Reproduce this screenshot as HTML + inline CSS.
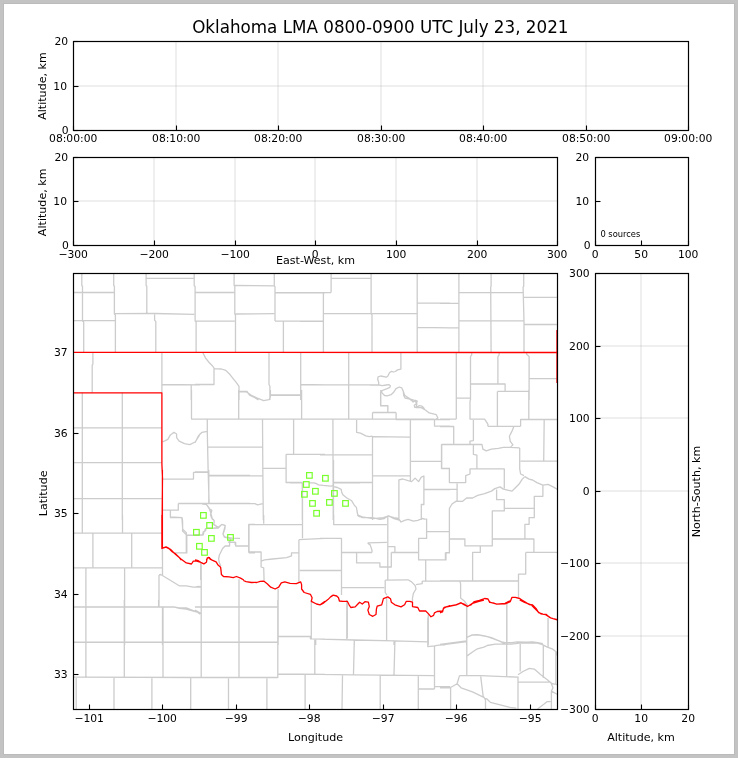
<!DOCTYPE html><html><head><meta charset="utf-8"><style>html,body{margin:0;padding:0;background:#fff;overflow:hidden}svg{display:block}</style></head><body><svg width="738" height="758" viewBox="0 0 738 758" font-family="DejaVu Sans, Liberation Sans, sans-serif" fill="#000">
<rect x="0" y="0" width="738" height="758" fill="#c3c3c3"/>
<rect x="3.5" y="3.5" width="731" height="751" fill="#fff" stroke="#bbbbbb" stroke-width="1"/>
<line x1="176.00" y1="41.5" x2="176.00" y2="130.5" stroke="#b0b0b0" stroke-opacity="0.2" stroke-width="2"/>
<line x1="278.00" y1="41.5" x2="278.00" y2="130.5" stroke="#b0b0b0" stroke-opacity="0.2" stroke-width="2"/>
<line x1="381.00" y1="41.5" x2="381.00" y2="130.5" stroke="#b0b0b0" stroke-opacity="0.2" stroke-width="2"/>
<line x1="483.00" y1="41.5" x2="483.00" y2="130.5" stroke="#b0b0b0" stroke-opacity="0.2" stroke-width="2"/>
<line x1="586.00" y1="41.5" x2="586.00" y2="130.5" stroke="#b0b0b0" stroke-opacity="0.2" stroke-width="2"/>
<line x1="73.5" y1="86.00" x2="688.5" y2="86.00" stroke="#b0b0b0" stroke-opacity="0.2" stroke-width="2"/>
<line x1="154.00" y1="157.5" x2="154.00" y2="245.5" stroke="#b0b0b0" stroke-opacity="0.2" stroke-width="2"/>
<line x1="235.00" y1="157.5" x2="235.00" y2="245.5" stroke="#b0b0b0" stroke-opacity="0.2" stroke-width="2"/>
<line x1="315.00" y1="157.5" x2="315.00" y2="245.5" stroke="#b0b0b0" stroke-opacity="0.2" stroke-width="2"/>
<line x1="396.00" y1="157.5" x2="396.00" y2="245.5" stroke="#b0b0b0" stroke-opacity="0.2" stroke-width="2"/>
<line x1="477.00" y1="157.5" x2="477.00" y2="245.5" stroke="#b0b0b0" stroke-opacity="0.2" stroke-width="2"/>
<line x1="73.5" y1="201.00" x2="557.5" y2="201.00" stroke="#b0b0b0" stroke-opacity="0.2" stroke-width="2"/>
<line x1="641.00" y1="273.5" x2="641.00" y2="709.5" stroke="#b0b0b0" stroke-opacity="0.2" stroke-width="2"/>
<line x1="595.5" y1="636.00" x2="688.5" y2="636.00" stroke="#b0b0b0" stroke-opacity="0.2" stroke-width="2"/>
<line x1="595.5" y1="563.00" x2="688.5" y2="563.00" stroke="#b0b0b0" stroke-opacity="0.2" stroke-width="2"/>
<line x1="595.5" y1="491.00" x2="688.5" y2="491.00" stroke="#b0b0b0" stroke-opacity="0.2" stroke-width="2"/>
<line x1="595.5" y1="418.00" x2="688.5" y2="418.00" stroke="#b0b0b0" stroke-opacity="0.2" stroke-width="2"/>
<line x1="595.5" y1="346.00" x2="688.5" y2="346.00" stroke="#b0b0b0" stroke-opacity="0.2" stroke-width="2"/>
<path d="M81.8,273.5 L81.8,285.5 L82.5,286.2 L82.5,321.1 L83.7,322.0 L83.7,351.9 M73.5,292.5 L114.0,292.5 M73.5,320.7 L115.4,320.7 M113.7,273.5 L113.7,285.5 L114.4,286.2 L114.4,314.0 L115.4,315.1 L115.4,351.9 M114.4,313.7 L154.6,313.5 L194.2,314.4 M146.1,273.5 L146.1,285.5 L146.8,286.2 L146.8,313.7 M146.1,278.3 L194.2,278.3 M194.2,273.5 L194.2,285.5 L195.1,286.7 L195.1,321.1 L196.1,322.1 L196.1,351.9 M195.1,292.5 L200.0,292.5 M154.6,314.4 L154.6,320.2 L155.8,321.4 L155.8,351.9 M92.9,352.8 L92.9,364.2 L92.2,365.1 L92.2,392.8 M161.9,352.4 L161.9,392.8 M161.9,384.5 L200.0,384.8 M191.2,384.8 L191.2,400.0 M82.3,393.3 L82.3,400.0 M122.3,393.3 L122.3,400.0 M234.1,273.5 L234.1,285.5 L234.8,286.2 L234.8,314.0 L235.5,315.1 L235.5,351.9 M195.0,292.5 L234.1,292.5 M195.0,321.1 L234.8,321.1 M234.8,285.5 L274.3,285.9 M274.3,273.5 L274.3,285.9 L275.0,286.7 L275.0,321.1 M235.5,314.0 L274.3,313.7 M275.0,292.5 L325.0,292.9 M275.0,321.1 L323.2,321.1 M283.4,321.4 L283.4,351.9 M202.9,352.8 L205.6,358.1 L209.1,362.5 L212.6,366.0 L214.4,368.6 L221.4,369.0 L225.8,370.4 L230.2,374.8 L232.9,378.3 L236.4,382.7 L239.0,386.3 L239.0,391.5 L247.0,391.5 L249.6,395.1 L254.9,397.7 L258.4,400.0 M214.0,368.6 L214.0,384.5 L195.0,384.5 M239.0,391.5 L239.0,400.0 M269.0,352.8 L269.0,384.5 L269.9,386.3 L269.9,400.0 M269.9,395.4 L300.7,395.4 M300.7,352.8 L300.7,400.0 M300.7,384.5 L325.0,384.8 M331.1,273.5 L331.1,292.6 M300.0,292.6 L331.1,292.6 M331.1,278.3 L360.0,278.3 M323.4,292.6 L323.4,352.0 M300.0,321.3 L323.4,321.3 M323.4,313.7 L360.0,313.7 M330.9,278.3 L371.1,278.3 M371.1,273.5 L371.1,313.7 L372.0,314.9 L372.0,351.9 M326.2,313.7 L417.2,313.3 M417.2,273.5 L417.2,351.9 M417.2,303.1 L450.0,303.1 M417.2,327.4 L450.0,327.8 M348.7,352.8 L348.7,400.0 M320.0,384.8 L379.0,384.8 M400.9,352.4 L400.9,369.1 L397.6,369.9 L395.2,371.5 L393.6,372.0 L391.5,371.3 L389.5,372.8 L387.9,376.0 L386.3,377.2 L380.6,376.0 L378.1,376.8 L377.7,379.3 L378.5,381.7 L378.9,385.0 L370.0,385.0 M378.9,385.0 L382.2,385.6 L386.3,385.0 L388.7,384.6 L390.3,385.8 L389.9,387.4 L387.1,388.6 L383.8,389.8 L381.4,391.1 L380.6,391.9 L380.6,405.7 L387.9,405.7 L387.9,410.0 M381.4,391.1 L382.2,393.1 L384.6,395.5 L387.1,395.9 L391.1,394.7 L393.6,392.3 L396.0,388.6 L399.3,387.0 L401.7,387.8 L403.3,391.5 L403.7,395.5 L405.0,398.0 L409.0,398.8 L411.5,400.4 L413.1,402.0 L415.5,400.4 L417.2,401.2 L416.3,403.7 L414.3,405.3 L414.7,407.3 L417.2,406.9 L419.6,405.7 L422.0,406.1 L423.7,407.7 L424.9,410.0 M458.9,273.5 L458.9,351.9 M440.0,303.4 L458.9,303.4 M440.0,327.9 L458.9,327.9 M458.9,292.6 L523.7,292.6 M491.1,273.5 L491.1,286.3 L490.7,287.1 L491.1,351.9 M458.9,320.9 L524.0,320.9 M523.7,273.5 L523.7,286.3 L523.1,287.1 L524.0,321.4 L524.0,351.9 M523.7,297.4 L556.9,297.4 M524.0,324.5 L556.9,324.5 M456.3,352.6 L456.3,400.0 M471.7,352.6 L471.7,354.9 L470.5,356.6 L470.5,400.0 M470.5,384.0 L505.1,384.0 L505.1,391.4 M497.4,391.4 L529.1,391.4 M499.1,352.6 L499.1,354.9 L497.9,356.6 L497.9,384.0 M497.4,391.4 L497.4,400.0 M526.6,352.6 L526.6,354.3 L529.1,356.6 L529.1,400.0 M529.1,378.3 L556.9,378.7 M82.3,392.6 L82.3,520.0 M122.3,392.6 L122.3,520.0 M73.5,427.9 L161.9,427.9 M73.5,462.7 L161.9,462.7 M73.5,498.7 L161.9,498.7 M191.5,390.0 L191.5,419.1 L200.0,419.1 M162.5,442.0 L167.8,439.3 L170.4,434.9 L173.9,432.3 L176.6,434.0 L176.6,437.6 L179.2,441.1 L184.5,443.7 L189.8,444.6 L195.1,442.0 L198.6,436.7 L200.0,434.0 M162.4,479.1 L193.5,479.1 L193.5,472.4 L208.8,472.2 M208.8,470.0 L208.8,503.5 M208.8,475.5 L250.0,475.5 M178.3,503.5 L250.0,503.5 M178.3,503.5 L178.3,510.2 L162.4,510.2 M170.4,510.2 L170.4,517.0 L182.0,517.6 L182.6,521.2 L182.6,531.0 L186.2,534.6 L186.8,535.2 L203.3,535.2 M186.8,535.2 L186.8,552.9 L175.9,552.9 M162.4,548.0 L162.4,560.0 M249.0,524.3 L249.0,552.9 M202.3,504.0 L206.0,504.3 L207.8,506.1 L209.0,508.5 L211.8,510.4 L211.2,512.8 L210.5,514.6 L211.5,517.7 L213.9,520.1 L214.2,522.6 L213.3,524.4 L216.3,526.2 L218.2,528.0 L213.3,528.4 L206.0,528.4 L205.7,530.5 L203.8,532.0 L203.2,534.8 L200.5,535.2 L195.0,535.2 M218.2,528.0 L220.0,526.2 L221.8,524.4 L225.2,525.3 L224.9,528.7 L223.7,532.3 L223.0,534.1 L224.3,536.6 L227.3,537.5 L232.2,538.1 L240.0,538.4 M227.9,542.1 L235.2,542.1 L235.2,545.0 M238.7,390.0 L238.7,419.1 M238.7,391.8 L246.1,391.8 L251.4,395.3 L256.7,397.9 L263.7,400.6 L269.0,399.7 L270.4,397.0 L270.4,390.0 M270.4,394.9 L301.6,394.9 M301.6,390.0 L301.6,419.1 M195.0,419.1 L325.0,419.1 M207.3,419.6 L207.3,432.3 L208.2,472.8 L209.1,502.7 M195.0,442.8 L198.5,435.8 L202.0,432.3 L207.3,431.4 M208.2,447.2 L262.5,447.2 M209.1,475.8 L262.8,475.8 M195.0,471.9 L208.2,471.9 M205.6,503.6 L254.9,503.6 L257.5,504.8 L262.8,503.6 M262.5,419.6 L262.8,467.5 L263.3,520.0 M262.8,468.4 L286.1,468.4 M293.6,419.6 L293.6,454.3 M286.1,454.3 L325.0,454.3 M286.1,454.3 L286.1,482.5 L302.5,482.5 M302.5,482.5 L302.5,520.0 M205.6,503.6 L209.1,508.0 L210.9,513.3 L212.6,520.0 M348.7,390.0 L348.7,419.1 M380.8,390.0 L380.8,405.9 L387.8,405.9 L387.8,412.5 M372.5,412.5 L396.1,412.5 M372.5,412.5 L372.5,419.1 M396.1,412.5 L396.1,419.6 L450.0,419.6 M402.8,390.0 L404.6,395.3 L409.8,398.8 L415.1,400.6 L416.9,404.1 L416.0,407.6 L421.3,407.6 L425.7,410.3 L429.2,412.9 L436.3,414.7 L438.0,418.2 L434.5,419.9 L434.5,426.1 L450.0,426.1 M320.0,419.1 L434.5,419.1 M332.9,419.6 L333.2,520.0 M356.6,419.9 L356.6,432.3 L360.5,433.2 L365.8,435.8 L369.3,436.7 L372.5,436.2 M372.5,436.7 L409.8,437.2 M372.5,436.2 L372.5,520.0 M410.4,419.9 L410.4,480.7 M320.0,454.8 L372.5,454.8 M333.7,482.5 L372.5,482.5 M372.5,475.8 L410.4,475.8 M410.4,461.3 L441.5,461.3 M450.0,444.6 L441.5,444.6 L441.5,468.4 L450.0,468.4 M423.9,489.5 L450.0,489.5 M398.9,520.0 L398.9,479.8 L402.8,479.0 L408.1,480.7 L411.6,481.6 L415.1,478.1 L418.6,481.6 L421.3,477.2 L423.9,476.0 L423.9,504.5 L421.3,504.5 L421.3,520.0 M290.0,482.8 L302.8,482.8 M302.3,482.8 L302.3,519.8 M309.4,482.8 L313.7,482.8 L316.6,483.7 L318.5,484.9 L323.2,485.4 L328.0,485.8 L330.8,486.1 L333.2,485.6 L333.6,486.6 L337.4,487.5 L341.2,489.4 L341.7,492.3 L343.1,495.1 L346.9,498.0 L351.7,500.8 L354.5,505.5 L356.4,507.4 L357.4,513.1 L358.3,516.0 L360.0,516.9 M333.5,460.0 L333.5,519.8 M333.5,482.8 L360.0,482.8 M357.0,511.5 L357.9,515.1 L362.3,516.8 L372.8,518.6 L383.4,517.7 L388.7,515.9 L394.0,518.6 L399.3,520.0 M456.3,390.0 L456.3,419.1 M440.0,419.1 L456.3,419.1 M456.3,398.2 L470.5,398.2 M470.5,390.0 L470.5,399.4 L470.0,401.1 L470.0,419.1 L484.6,419.1 L486.3,421.7 L488.0,424.3 L487.7,426.0 M487.7,426.3 L520.6,426.3 M497.4,391.4 L497.4,426.3 M497.4,391.4 L528.8,391.4 M528.8,390.0 L528.8,419.1 M520.6,426.3 L520.6,419.5 L557.4,419.5 M544.2,419.5 L543.7,461.1 M440.0,426.5 L453.7,426.5 L453.7,444.0 M473.4,420.0 L473.4,440.6 L470.0,441.1 L470.0,444.0 M441.7,444.5 L482.0,444.5 L482.9,449.1 L486.3,450.9 L491.4,449.1 L498.3,448.3 L503.4,447.4 L510.3,447.4 L519.7,447.9 M513.7,426.9 L512.0,431.1 L509.4,436.3 L510.3,441.4 L512.9,444.9 L510.3,447.4 M441.7,444.5 L441.7,468.5 L449.4,468.5 L449.4,482.6 L465.7,482.6 L465.7,475.7 L470.0,474.0 L470.0,468.9 L504.3,468.9 L504.3,488.6 M473.4,444.5 L473.4,454.3 L476.9,455.1 L476.9,468.5 M519.7,447.9 L519.7,468.9 L520.6,474.0 L524.0,475.7 M520.6,461.1 L557.4,461.1 M449.4,520.0 L449.4,508.3 L452.0,504.0 L456.3,501.1 L462.3,501.4 L466.6,498.0 L472.6,498.0 L477.7,495.4 L484.6,493.7 L491.4,491.1 L494.9,488.6 L500.0,486.9 L503.4,489.1 L508.6,490.3 L512.0,491.1 L515.4,487.7 L518.9,484.3 L522.3,479.1 L524.9,476.6 M524.9,476.6 L529.1,479.1 L532.6,480.0 L536.9,482.6 L542.9,485.1 L548.0,484.3 L553.1,486.9 L557.4,489.4 M440.0,489.4 L457.1,489.4 M457.1,483.4 L457.1,500.6 M496.6,489.4 L496.6,499.7 L504.3,499.7 L504.3,508.3 L534.3,508.3 M492.3,520.0 L492.3,510.9 L504.3,510.9 L504.3,508.3 M542.9,485.1 L542.9,496.3 L534.3,496.3 L534.3,517.7 L529.1,517.7 L529.1,520.0 M82.3,515.0 L82.3,533.1 M122.5,515.0 L122.5,533.1 M73.5,533.1 L161.9,533.1 M92.9,533.1 L92.9,567.8 M131.7,533.1 L131.7,567.8 M73.5,567.8 L162.5,567.8 M85.9,567.8 L85.9,645.0 M124.6,567.8 L124.6,645.0 M162.5,548.5 L162.5,574.9 M159.0,574.9 L159.0,606.6 M159.0,574.9 L160.7,574.5 L168.6,579.3 L179.2,585.8 L186.3,585.8 L193.3,587.2 L200.0,587.2 M73.5,606.9 L173.9,606.9 L179.2,608.4 L186.3,609.2 L193.3,611.0 L200.0,612.8 M162.5,606.9 L162.5,645.0 M73.5,642.2 L200.0,642.2 M170.4,515.0 L170.4,517.6 L181.9,517.6 L182.7,529.1 L186.3,532.6 L186.3,552.9 L173.9,552.9 M186.3,535.3 L200.0,535.3 M214.1,520.0 L214.1,521.6 M213.3,524.1 L218.2,527.3 L213.3,528.1 M218.2,527.3 L221.8,524.5 L225.1,525.7 L223.9,530.6 L223.0,533.8 L224.3,537.1 L227.5,537.9 L230.8,538.7 M230.8,538.7 L230.0,541.1 L229.1,542.0 L235.7,542.4 L235.7,546.0 L248.7,546.0 L248.7,524.5 L255.0,524.5 M248.7,552.9 L255.0,552.9 M229.6,542.0 L229.6,546.0 L225.1,546.0 L222.6,548.5 L221.0,551.7 L219.4,555.0 L218.6,559.0 L219.4,563.1 L221.0,565.9 M205.6,528.1 L204.8,530.6 L203.1,532.2 L202.7,535.0 L195.0,535.0 M200.7,563.1 L200.7,580.0 M201.2,564.3 L201.2,645.0 M239.0,579.3 L239.0,645.0 M201.2,606.9 L278.1,606.9 M278.1,589.0 L278.1,645.0 M195.0,642.2 L278.1,642.2 M278.1,636.5 L311.3,636.5 M311.3,601.3 L311.3,639.2 L325.0,639.2 M315.7,639.2 L315.7,645.0 M195.0,587.2 L198.5,586.3 L201.2,587.2 M195.0,610.1 L201.2,613.6 M298.9,539.7 L298.9,581.9 M298.9,539.7 L325.0,538.3 M299.8,570.5 L325.0,570.5 M302.5,515.0 L302.5,538.3 M263.7,515.0 L263.7,523.8 M248.7,524.7 L302.5,524.7 M248.7,524.7 L248.7,552.0 L261.1,552.0 L261.1,567.0 L263.7,567.8 L264.1,580.5 M261.1,561.2 L264.6,559.9 L272.5,559.0 L286.6,557.6 L291.5,555.9 L291.5,552.9 L298.9,552.9 M333.7,515.0 L333.7,524.7 L386.9,524.7 M320.0,538.4 L341.5,538.4 L341.5,595.1 M320.0,570.5 L341.5,570.5 M341.5,552.5 L372.0,552.5 M341.5,587.6 L384.3,587.6 M387.8,515.9 L387.8,580.2 M357.0,515.0 L362.3,517.6 L372.8,517.6 L379.9,519.4 L384.3,518.5 L387.8,515.9 L394.0,517.6 L398.4,518.5 L401.0,522.0 L404.6,520.3 L408.1,519.4 L413.4,521.2 L417.8,520.3 L422.2,518.5 L425.7,519.4 M426.6,518.5 L426.6,538.4 L418.6,538.4 L418.6,559.9 L445.4,559.9 L445.4,552.9 L450.0,552.9 M426.6,531.7 L450.0,531.7 M425.7,559.9 L425.7,581.1 M422.2,581.1 L450.0,581.1 M422.2,581.1 L422.2,583.7 L416.0,584.6 M385.2,580.2 L408.1,579.8 L411.6,581.9 L415.1,585.5 L416.0,589.0 L413.4,593.4 L412.5,597.8 L412.5,601.3 M385.2,580.2 L385.2,592.5 L386.9,595.1 M387.8,546.7 L394.9,546.7 L394.9,552.5 M391.3,552.5 L418.6,552.5 M367.6,542.8 L386.9,542.3 M367.6,543.2 L370.2,544.9 L372.0,550.2 L372.0,552.5 M356.6,552.9 L356.6,562.9 L379.9,562.9 L379.9,567.0 L391.3,567.0 L391.3,552.5 M347.3,602.2 L347.3,638.3 M386.6,597.8 L386.6,640.1 M320.0,639.2 L354.3,640.1 L394.0,640.9 L428.3,641.8 M354.3,640.1 L354.3,645.0 M394.0,640.9 L394.0,645.0 M428.3,613.6 L428.3,645.0 M443.3,645.0 L450.0,643.2 M449.4,515.0 L449.4,552.7 L446.0,552.7 L446.0,559.9 L440.0,559.9 M440.0,531.6 L449.4,531.6 M449.4,539.0 L464.9,539.0 L464.9,545.9 L492.3,545.9 L492.3,515.0 M492.3,539.0 L533.9,539.0 L533.9,551.9 M524.9,539.0 L524.9,524.4 L529.1,524.4 L529.1,517.6 L534.3,517.6 L534.3,515.0 M480.3,545.9 L480.3,552.4 L472.6,552.4 L472.6,581.0 M525.7,552.4 L557.4,552.4 M525.7,552.4 L525.7,574.1 L518.5,574.1 L518.5,597.3 M440.0,581.0 L518.5,581.0 M459.7,581.0 L460.6,583.6 L460.6,598.1 L464.0,600.7 L467.4,605.0 M466.6,605.9 L466.6,645.0 M506.9,602.4 L506.9,645.0 M548.0,617.9 L548.0,645.0 M466.6,637.6 L471.7,635.0 L477.7,634.7 L484.6,635.9 L491.4,637.6 L496.6,639.8 L501.7,641.9 L505.1,642.7 L512.0,642.7 L517.1,641.9 L525.7,642.2 L532.6,641.9 L537.7,642.7 L542.9,643.6 M440.0,644.4 L466.6,641.0 M85.9,600.0 L85.9,677.2 M124.3,600.0 L124.3,677.2 M158.6,600.0 L158.6,607.0 M73.5,607.0 L173.9,607.0 L179.2,607.9 L186.3,607.9 L193.3,610.6 L200.0,613.2 M163.0,607.0 L163.0,677.2 M73.5,642.3 L200.0,642.3 M73.5,677.2 L200.0,677.5 M76.2,677.5 L76.2,709.2 M114.0,677.5 L114.0,709.2 M151.9,677.5 L151.9,709.2 M190.7,677.5 L190.7,709.2 M201.2,600.0 L201.2,677.5 M239.0,600.0 L239.0,677.5 M277.8,600.0 L277.8,677.5 M195.0,607.0 L277.8,607.0 M195.0,642.3 L277.8,642.3 M195.0,677.5 L277.8,677.5 L277.8,674.0 L325.0,674.3 M277.8,636.6 L310.4,636.6 L310.4,638.8 L325.0,639.1 M311.3,600.0 L311.3,638.8 M314.8,639.6 L314.8,674.0 M228.5,678.4 L228.5,709.2 M266.9,678.4 L266.9,709.2 M305.1,674.9 L305.1,709.2 M195.0,610.6 L200.3,614.1 M346.8,600.0 L346.8,639.1 M386.6,600.0 L386.6,640.2 M320.0,639.1 L354.3,639.8 L394.0,640.9 L427.8,641.9 M427.8,617.6 L427.8,646.7 L434.5,645.8 L450.0,643.2 M354.3,640.2 L353.5,674.3 M394.9,641.4 L394.0,674.9 M434.5,645.8 L434.5,689.0 M320.0,674.3 L353.5,674.9 L434.5,675.7 M342.5,675.4 L342.0,709.2 M380.2,675.7 L380.2,709.2 M418.3,676.1 L418.3,709.2 M418.3,689.0 L434.5,689.0 M434.5,686.7 L450.0,686.7 M466.8,604.9 L466.8,675.6 M506.7,604.1 L506.7,677.2 M548.1,618.7 L548.1,648.0 M440.0,645.2 L466.8,641.5 M466.8,637.4 L472.5,635.0 L479.0,635.0 L487.2,636.6 L493.7,639.0 L500.2,641.5 L505.0,643.9 L511.5,644.2 L519.7,643.1 L529.4,643.1 L537.6,643.1 L542.4,644.7 L547.3,647.2 L552.2,648.8 L556.3,652.0 L557.1,655.3 M466.8,656.1 L472.5,652.0 L477.4,648.8 L483.9,647.2 L487.2,645.5 L495.3,644.2 L505.0,644.2 M520.2,643.9 L520.2,671.5 M543.3,645.5 L543.3,678.0 M555.8,652.0 L555.8,684.6 M459.5,675.6 L480.7,675.6 L518.0,677.2 M459.5,675.6 L457.1,683.7 L461.1,687.8 L472.5,691.9 L480.7,695.9 L487.2,699.2 L490.4,702.4 L500.2,704.9 L509.9,707.3 L516.4,708.1 M440.0,687.8 L450.6,687.5 L457.1,683.7 M450.6,687.5 L450.6,708.9 M480.7,676.4 L483.1,695.9 L485.5,700.0 L485.5,708.9 M518.0,676.4 L518.0,708.9 M518.0,674.8 L522.9,671.5 L529.4,668.3 L534.3,669.1 L540.8,674.8 L547.3,679.7 L552.2,683.7 L557.1,684.6 M518.0,682.1 L550.6,682.1 M550.6,682.1 L553.0,687.8 L551.4,691.1 L551.4,708.9 M551.4,691.1 L557.1,694.3 M537.6,708.9 L544.1,704.1 L547.3,701.6 L550.6,701.6" fill="none" stroke="#cccccc" stroke-width="1.3" stroke-linejoin="round"/>
<path d="M161.9,392.6 L161.9,464.0 L162.5,478.1 L162.1,520.0 M162.4,470.0 L162.4,548.0 L166.1,546.8 L168.5,548.0 L172.2,551.7 L175.9,554.1 L179.5,557.8 L181.3,560.0 M206.3,560.0 L207.6,558.0 L209.4,557.6 L210.6,560.0 M161.9,515.0 L161.9,548.5 L166.0,547.1 L170.4,549.3 L175.7,554.6 L181.0,559.0 L186.3,562.9 L191.5,564.0 L193.3,561.2 L196.8,561.2 L200.0,562.2 M195.0,559.8 L198.3,560.7 L200.7,562.3 L203.9,563.9 L206.4,562.3 L207.2,558.2 L208.8,557.4 L212.1,560.2 L216.1,561.9 L217.8,564.7 L220.6,567.2 L221.0,570.4 L221.4,574.5 L223.5,576.5 L229.1,576.9 L233.2,577.7 L236.5,576.5 L240.5,578.1 L243.8,580.0 M254.9,582.3 L256.7,582.5 L260.2,581.4 L263.7,581.1 L267.2,583.7 L270.7,587.2 L275.1,589.0 L278.7,587.2 L281.3,582.8 L284.8,581.9 L290.1,583.3 L296.3,583.7 L300.7,581.9 L301.6,584.6 L301.6,589.0 L304.2,592.5 L310.4,594.3 L312.1,597.8 L311.3,601.3 L316.5,604.0 L320.1,604.8 L325.0,601.3 M243.3,580.5 L246.1,581.6 L251.4,582.5 L254.9,582.3 M320.0,604.8 L323.5,603.1 L327.9,599.6 L330.6,596.9 L333.2,595.1 L336.7,596.0 L338.5,597.8 L339.4,601.0 L342.9,601.3 L347.3,601.3 L349.1,604.8 L350.8,607.5 L355.2,606.9 L357.9,604.0 L359.6,602.2 L362.3,604.0 L364.9,601.7 L368.4,602.2 L369.3,606.6 L367.9,610.1 L369.3,614.5 L372.8,616.3 L376.0,614.5 L376.4,609.2 L377.2,606.2 L381.7,604.8 L383.4,598.7 L387.8,596.9 L390.5,598.7 L391.3,602.2 L394.9,604.8 L401.0,606.9 L404.6,604.8 L406.3,601.3 L409.8,601.3 L412.5,602.2 L412.5,606.6 L417.8,607.5 L419.5,611.0 L425.7,611.0 L428.3,613.6 L431.0,616.8 L433.6,615.4 L434.5,612.8 L437.1,611.5 L442.4,611.0 L444.2,607.5 L450.0,605.7 M440.0,612.7 L442.6,611.9 L443.4,608.4 L446.9,606.7 L450.3,605.9 L455.4,605.0 L460.6,602.8 L464.0,604.1 L467.4,606.2 L470.9,605.0 L473.4,602.4 L474.3,601.6 L479.4,600.4 L484.6,598.5 L488.0,599.0 L489.7,602.4 L493.1,602.8 L496.6,604.1 L505.1,603.8 L508.6,602.4 L510.3,601.6 L512.0,597.3 L515.4,597.3 L519.7,598.5 L522.3,600.2 L525.7,602.4 L529.1,604.5 L532.6,605.0 L536.0,608.4 L538.6,612.7 L542.9,614.1 L546.3,614.4 L549.7,617.5 L553.1,618.7 L557.4,619.6 M440.0,613.0 L442.4,611.4 L444.1,607.3 L448.1,606.5 L456.3,604.9 L461.1,602.9 L464.4,604.9 L467.6,606.5 L472.5,603.3 L479.0,601.3 L483.9,600.0 M488.8,600.8 L490.4,602.4 L496.9,604.1 L505.0,603.3 L509.9,600.8 M519.7,600.0 L524.6,602.4 L531.1,604.9 L534.3,608.1 L537.6,611.4 L540.8,613.8 L545.7,614.6 L550.6,617.9 L557.1,619.8 M73.5,352.3 L557.5,352.5 M73.5,392.8 L162.0,392.8 M557.0,330.0 L557.0,383.0" fill="none" stroke="#ff0000" stroke-width="1.3" stroke-linejoin="round"/>

<rect x="200.60" y="512.60" width="5.6" height="5.6" fill="none" stroke="#78ff2d" stroke-width="1.2"/>
<rect x="206.80" y="522.60" width="5.6" height="5.6" fill="none" stroke="#78ff2d" stroke-width="1.2"/>
<rect x="193.60" y="529.50" width="5.6" height="5.6" fill="none" stroke="#78ff2d" stroke-width="1.2"/>
<rect x="208.60" y="535.60" width="5.6" height="5.6" fill="none" stroke="#78ff2d" stroke-width="1.2"/>
<rect x="227.70" y="534.60" width="5.6" height="5.6" fill="none" stroke="#78ff2d" stroke-width="1.2"/>
<rect x="196.60" y="543.50" width="5.6" height="5.6" fill="none" stroke="#78ff2d" stroke-width="1.2"/>
<rect x="201.70" y="549.60" width="5.6" height="5.6" fill="none" stroke="#78ff2d" stroke-width="1.2"/>
<rect x="306.60" y="472.60" width="5.6" height="5.6" fill="none" stroke="#78ff2d" stroke-width="1.2"/>
<rect x="322.60" y="475.50" width="5.6" height="5.6" fill="none" stroke="#78ff2d" stroke-width="1.2"/>
<rect x="303.50" y="481.70" width="5.6" height="5.6" fill="none" stroke="#78ff2d" stroke-width="1.2"/>
<rect x="312.60" y="488.50" width="5.6" height="5.6" fill="none" stroke="#78ff2d" stroke-width="1.2"/>
<rect x="301.60" y="491.50" width="5.6" height="5.6" fill="none" stroke="#78ff2d" stroke-width="1.2"/>
<rect x="331.60" y="490.60" width="5.6" height="5.6" fill="none" stroke="#78ff2d" stroke-width="1.2"/>
<rect x="309.70" y="500.60" width="5.6" height="5.6" fill="none" stroke="#78ff2d" stroke-width="1.2"/>
<rect x="326.60" y="499.60" width="5.6" height="5.6" fill="none" stroke="#78ff2d" stroke-width="1.2"/>
<rect x="342.70" y="500.60" width="5.6" height="5.6" fill="none" stroke="#78ff2d" stroke-width="1.2"/>
<rect x="313.80" y="510.50" width="5.6" height="5.6" fill="none" stroke="#78ff2d" stroke-width="1.2"/>
<line x1="73.50" y1="130.5" x2="73.50" y2="125.5" stroke="#000" stroke-width="1.1"/>
<text x="73.20" y="141.70" font-size="10.75" text-anchor="middle">08:00:00</text>
<line x1="176.50" y1="130.5" x2="176.50" y2="125.5" stroke="#000" stroke-width="1.1"/>
<text x="176.20" y="141.70" font-size="10.75" text-anchor="middle">08:10:00</text>
<line x1="278.50" y1="130.5" x2="278.50" y2="125.5" stroke="#000" stroke-width="1.1"/>
<text x="278.20" y="141.70" font-size="10.75" text-anchor="middle">08:20:00</text>
<line x1="381.50" y1="130.5" x2="381.50" y2="125.5" stroke="#000" stroke-width="1.1"/>
<text x="381.20" y="141.70" font-size="10.75" text-anchor="middle">08:30:00</text>
<line x1="483.50" y1="130.5" x2="483.50" y2="125.5" stroke="#000" stroke-width="1.1"/>
<text x="483.20" y="141.70" font-size="10.75" text-anchor="middle">08:40:00</text>
<line x1="586.50" y1="130.5" x2="586.50" y2="125.5" stroke="#000" stroke-width="1.1"/>
<text x="586.20" y="141.70" font-size="10.75" text-anchor="middle">08:50:00</text>
<line x1="688.50" y1="130.5" x2="688.50" y2="125.5" stroke="#000" stroke-width="1.1"/>
<text x="688.20" y="141.70" font-size="10.75" text-anchor="middle">09:00:00</text>
<line x1="73.5" y1="130.50" x2="78.5" y2="130.50" stroke="#000" stroke-width="1.1"/>
<text x="68.70" y="134.30" font-size="10.75" text-anchor="end">0</text>
<line x1="73.5" y1="86.50" x2="78.5" y2="86.50" stroke="#000" stroke-width="1.1"/>
<text x="67.00" y="90.30" font-size="10.75" text-anchor="end">10</text>
<line x1="73.5" y1="41.50" x2="78.5" y2="41.50" stroke="#000" stroke-width="1.1"/>
<text x="68.20" y="45.30" font-size="10.75" text-anchor="end">20</text>
<rect x="73.5" y="41.5" width="615.0" height="89.0" fill="none" stroke="#000" stroke-width="1.2"/>
<line x1="73.50" y1="245.5" x2="73.50" y2="240.5" stroke="#000" stroke-width="1.1"/>
<text x="73.20" y="257.70" font-size="10.75" text-anchor="middle">−300</text>
<line x1="154.50" y1="245.5" x2="154.50" y2="240.5" stroke="#000" stroke-width="1.1"/>
<text x="154.20" y="257.70" font-size="10.75" text-anchor="middle">−200</text>
<line x1="235.50" y1="245.5" x2="235.50" y2="240.5" stroke="#000" stroke-width="1.1"/>
<text x="235.20" y="257.70" font-size="10.75" text-anchor="middle">−100</text>
<line x1="315.50" y1="245.5" x2="315.50" y2="240.5" stroke="#000" stroke-width="1.1"/>
<text x="315.20" y="257.70" font-size="10.75" text-anchor="middle">0</text>
<line x1="396.50" y1="245.5" x2="396.50" y2="240.5" stroke="#000" stroke-width="1.1"/>
<text x="396.20" y="257.70" font-size="10.75" text-anchor="middle">100</text>
<line x1="477.50" y1="245.5" x2="477.50" y2="240.5" stroke="#000" stroke-width="1.1"/>
<text x="477.20" y="257.70" font-size="10.75" text-anchor="middle">200</text>
<line x1="557.50" y1="245.5" x2="557.50" y2="240.5" stroke="#000" stroke-width="1.1"/>
<text x="557.20" y="257.70" font-size="10.75" text-anchor="middle">300</text>
<line x1="73.5" y1="245.50" x2="78.5" y2="245.50" stroke="#000" stroke-width="1.1"/>
<text x="68.90" y="249.30" font-size="10.75" text-anchor="end">0</text>
<line x1="73.5" y1="201.50" x2="78.5" y2="201.50" stroke="#000" stroke-width="1.1"/>
<text x="67.00" y="205.30" font-size="10.75" text-anchor="end">10</text>
<line x1="73.5" y1="157.50" x2="78.5" y2="157.50" stroke="#000" stroke-width="1.1"/>
<text x="68.20" y="161.30" font-size="10.75" text-anchor="end">20</text>
<rect x="73.5" y="157.5" width="484.0" height="88.0" fill="none" stroke="#000" stroke-width="1.2"/>
<line x1="595.50" y1="245.5" x2="595.50" y2="240.5" stroke="#000" stroke-width="1.1"/>
<text x="595.20" y="257.70" font-size="10.75" text-anchor="middle">0</text>
<line x1="641.50" y1="245.5" x2="641.50" y2="240.5" stroke="#000" stroke-width="1.1"/>
<text x="641.20" y="257.70" font-size="10.75" text-anchor="middle">50</text>
<line x1="688.50" y1="245.5" x2="688.50" y2="240.5" stroke="#000" stroke-width="1.1"/>
<text x="688.20" y="257.70" font-size="10.75" text-anchor="middle">100</text>
<line x1="595.5" y1="245.50" x2="600.5" y2="245.50" stroke="#000" stroke-width="1.1"/>
<text x="590.50" y="249.30" font-size="10.75" text-anchor="end">0</text>
<line x1="595.5" y1="201.50" x2="600.5" y2="201.50" stroke="#000" stroke-width="1.1"/>
<text x="589.20" y="205.30" font-size="10.75" text-anchor="end">10</text>
<line x1="595.5" y1="157.50" x2="600.5" y2="157.50" stroke="#000" stroke-width="1.1"/>
<text x="589.20" y="161.30" font-size="10.75" text-anchor="end">20</text>
<rect x="595.5" y="157.5" width="93.0" height="88.0" fill="none" stroke="#000" stroke-width="1.2"/>
<line x1="89.50" y1="709.5" x2="89.50" y2="704.5" stroke="#000" stroke-width="1.1"/>
<text x="89.20" y="721.90" font-size="10.75" text-anchor="middle">−101</text>
<line x1="162.50" y1="709.5" x2="162.50" y2="704.5" stroke="#000" stroke-width="1.1"/>
<text x="162.20" y="721.90" font-size="10.75" text-anchor="middle">−100</text>
<line x1="236.50" y1="709.5" x2="236.50" y2="704.5" stroke="#000" stroke-width="1.1"/>
<text x="236.20" y="721.90" font-size="10.75" text-anchor="middle">−99</text>
<line x1="309.50" y1="709.5" x2="309.50" y2="704.5" stroke="#000" stroke-width="1.1"/>
<text x="309.20" y="721.90" font-size="10.75" text-anchor="middle">−98</text>
<line x1="383.50" y1="709.5" x2="383.50" y2="704.5" stroke="#000" stroke-width="1.1"/>
<text x="383.20" y="721.90" font-size="10.75" text-anchor="middle">−97</text>
<line x1="456.50" y1="709.5" x2="456.50" y2="704.5" stroke="#000" stroke-width="1.1"/>
<text x="456.20" y="721.90" font-size="10.75" text-anchor="middle">−96</text>
<line x1="530.50" y1="709.5" x2="530.50" y2="704.5" stroke="#000" stroke-width="1.1"/>
<text x="530.20" y="721.90" font-size="10.75" text-anchor="middle">−95</text>
<line x1="73.5" y1="674.50" x2="78.5" y2="674.50" stroke="#000" stroke-width="1.1"/>
<text x="67.70" y="678.30" font-size="10.75" text-anchor="end">33</text>
<line x1="73.5" y1="594.50" x2="78.5" y2="594.50" stroke="#000" stroke-width="1.1"/>
<text x="67.70" y="598.30" font-size="10.75" text-anchor="end">34</text>
<line x1="73.5" y1="513.50" x2="78.5" y2="513.50" stroke="#000" stroke-width="1.1"/>
<text x="67.70" y="517.30" font-size="10.75" text-anchor="end">35</text>
<line x1="73.5" y1="433.50" x2="78.5" y2="433.50" stroke="#000" stroke-width="1.1"/>
<text x="67.70" y="437.30" font-size="10.75" text-anchor="end">36</text>
<text x="67.70" y="356.30" font-size="10.75" text-anchor="end">37</text>
<rect x="73.5" y="273.5" width="484.0" height="436.0" fill="none" stroke="#000" stroke-width="1.2"/>
<line x1="595.50" y1="709.5" x2="595.50" y2="704.5" stroke="#000" stroke-width="1.1"/>
<text x="595.20" y="721.90" font-size="10.75" text-anchor="middle">0</text>
<line x1="641.50" y1="709.5" x2="641.50" y2="704.5" stroke="#000" stroke-width="1.1"/>
<text x="641.20" y="721.90" font-size="10.75" text-anchor="middle">10</text>
<line x1="688.50" y1="709.5" x2="688.50" y2="704.5" stroke="#000" stroke-width="1.1"/>
<text x="688.20" y="721.90" font-size="10.75" text-anchor="middle">20</text>
<line x1="595.5" y1="709.50" x2="600.5" y2="709.50" stroke="#000" stroke-width="1.1"/>
<text x="589.60" y="713.30" font-size="10.75" text-anchor="end">−300</text>
<line x1="595.5" y1="636.50" x2="600.5" y2="636.50" stroke="#000" stroke-width="1.1"/>
<text x="589.60" y="640.30" font-size="10.75" text-anchor="end">−200</text>
<line x1="595.5" y1="563.50" x2="600.5" y2="563.50" stroke="#000" stroke-width="1.1"/>
<text x="589.60" y="567.30" font-size="10.75" text-anchor="end">−100</text>
<line x1="595.5" y1="491.50" x2="600.5" y2="491.50" stroke="#000" stroke-width="1.1"/>
<text x="589.60" y="495.30" font-size="10.75" text-anchor="end">0</text>
<line x1="595.5" y1="418.50" x2="600.5" y2="418.50" stroke="#000" stroke-width="1.1"/>
<text x="589.60" y="422.30" font-size="10.75" text-anchor="end">100</text>
<line x1="595.5" y1="346.50" x2="600.5" y2="346.50" stroke="#000" stroke-width="1.1"/>
<text x="589.60" y="350.30" font-size="10.75" text-anchor="end">200</text>
<line x1="595.5" y1="273.50" x2="600.5" y2="273.50" stroke="#000" stroke-width="1.1"/>
<text x="589.60" y="277.30" font-size="10.75" text-anchor="end">300</text>
<rect x="595.5" y="273.5" width="93.0" height="436.0" fill="none" stroke="#000" stroke-width="1.2"/>
<text x="380.30" y="33.20" font-size="16.75" text-anchor="middle">Oklahoma LMA 0800-0900 UTC July 23, 2021</text>
<text x="45.60" y="86.00" font-size="11.1" text-anchor="middle" transform="rotate(-90 45.6 86)">Altitude, km</text>
<text x="45.60" y="202.30" font-size="11.1" text-anchor="middle" transform="rotate(-90 45.6 202.3)">Altitude, km</text>
<text x="315.50" y="263.80" font-size="11.1" text-anchor="middle">East-West, km</text>
<text x="46.90" y="493.30" font-size="11.1" text-anchor="middle" transform="rotate(-90 46.9 493.3)">Latitude</text>
<text x="315.50" y="740.70" font-size="11.1" text-anchor="middle">Longitude</text>
<text x="641.00" y="741.40" font-size="11.1" text-anchor="middle">Altitude, km</text>
<text x="700.10" y="491.50" font-size="11.1" text-anchor="middle" transform="rotate(-90 700.1 491.5)">North-South, km</text>
<text x="600.40" y="237.00" font-size="8.33" text-anchor="start">0 sources</text>
</svg></body></html>
